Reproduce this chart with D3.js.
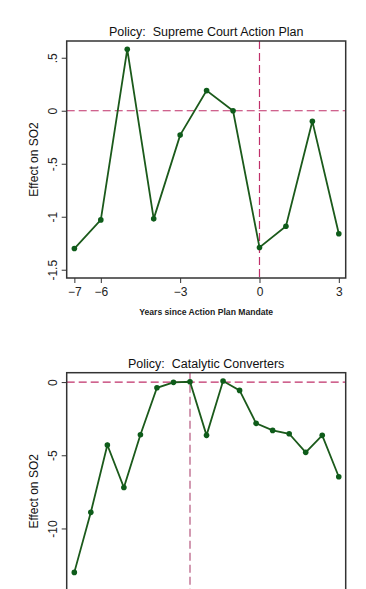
<!DOCTYPE html>
<html><head><meta charset="utf-8">
<script src="https://cdn.jsdelivr.net/npm/d3@7"></script>
<style>
html,body{margin:0;padding:0;background:#fff;}
svg{display:block;}
text{font-family:"Liberation Sans",Arial,sans-serif;white-space:pre;}
</style></head>
<body>
<svg id="chart" width="366" height="589"></svg>
<script>
// ---- Data ----
const titles = ["Policy:  Supreme Court Action Plan", "Policy:  Catalytic Converters"];
const yLabel = "Effect on SO2";
const xLabel1 = "Years since Action Plan Mandate";

const years1 = [-7, -6, -5, -4, -3, -2, -1, 0, 1, 2, 3];
const effects1 = [-1.30, -1.03, 0.58, -1.02, -0.23, 0.19, 0.00, -1.29, -1.09, -0.10, -1.16];
const xTicks1 = [-7, -6, -3, 0, 3];
const yTicks1 = [0.5, 0, -0.5, -1, -1.5];
const yTickLabels1 = [".5", "0", "-.5", "-1", "-1.5"];

const years2 = [-7, -6, -5, -4, -3, -2, -1, 0, 1, 2, 3, 4, 5, 6, 7, 8, 9];
const effects2 = [-13.0, -8.9, -4.3, -7.2, -3.6, -0.39, -0.02, 0.02, -3.64, 0.07, -0.57, -2.82, -3.3, -3.53, -4.8, -3.64, -6.47];
const yTicks2 = [0, -5, -10];
const yTickLabels2 = ["0", "-5", "-10"];

// ---- Drawing ----
const svg = d3.select("#chart");
const lineColor = "#1b5a1b";
const refColor = "#c0306a";

function panel(cfg) {
  const g = svg.append("g");
  const x = d3.scaleLinear().domain(cfg.xDomain).range([cfg.left, cfg.right]);
  const y = d3.scaleLinear().domain(cfg.yDomain).range([cfg.bottom, cfg.top]);

  // title
  g.append("text").attr("x", (cfg.left + cfg.right) / 2).attr("y", cfg.top - 5)
    .attr("text-anchor", "middle").attr("font-size", 12.5).attr("fill", "#111")
    .attr("xml:space", "preserve").text(cfg.title);

  // y axis
  const yAxis = g.append("g").attr("transform", `translate(${cfg.left},0)`)
    .call(d3.axisLeft(y).tickValues(cfg.yTicks).tickSize(5).tickFormat((d, i) => cfg.yTickLabels[i]));
  yAxis.select(".domain").remove();
  yAxis.selectAll(".tick line").attr("stroke", "#333");
  yAxis.selectAll(".tick text")
    .attr("font-size", 12).attr("fill", "#222")
    .attr("text-anchor", "middle")
    .attr("x", 0).attr("y", 0).attr("dy", "0")
    .attr("transform", "translate(-10,0) rotate(-90)");

  // x axis
  if (cfg.xTicks) {
    const xAxis = g.append("g").attr("transform", `translate(0,${cfg.bottom})`)
      .call(d3.axisBottom(x).tickValues(cfg.xTicks).tickSize(5).tickFormat(d3.format("d")));
    xAxis.select(".domain").remove();
    xAxis.selectAll(".tick line").attr("stroke", "#333");
    xAxis.selectAll(".tick text").attr("font-size", 12).attr("fill", "#222").attr("dy", "0.9em").attr("y", 7);
  }
  if (cfg.xLabel) {
    g.append("text").attr("x", (cfg.left + cfg.right) / 2).attr("y", cfg.bottom + 37)
      .attr("text-anchor", "middle").attr("font-size", 8.6).attr("font-weight", "bold")
      .attr("fill", "#222").text(cfg.xLabel);
  }

  // y label
  g.append("text")
    .attr("transform", `translate(${cfg.left - 29},${(cfg.top + cfg.bottom) / 2}) rotate(-90)`)
    .attr("text-anchor", "middle").attr("font-size", 12).attr("fill", "#111").text(yLabel);

  // reference lines
  g.append("line").attr("x1", cfg.left).attr("x2", cfg.right).attr("y1", y(0)).attr("y2", y(0))
    .attr("stroke", refColor).attr("stroke-width", 1.2).attr("stroke-dasharray", "8,4");
  g.append("line").attr("x1", x(0)).attr("x2", x(0)).attr("y1", cfg.top).attr("y2", cfg.bottom)
    .attr("stroke", cfg.vColor).attr("stroke-width", cfg.vWidth).attr("stroke-dasharray", "8,4");

  // series
  const data = cfg.xs.map((d, i) => [d, cfg.ys[i]]);
  g.append("path").datum(data)
    .attr("fill", "none").attr("stroke", lineColor).attr("stroke-width", 1.8)
    .attr("d", d3.line().x(d => x(d[0])).y(d => y(d[1])));
  g.selectAll("circle.pt").data(data).enter().append("circle")
    .attr("cx", d => x(d[0])).attr("cy", d => y(d[1])).attr("r", 2.8)
    .attr("fill", "#0e5c1a");

  // frame
  g.append("rect").attr("x", cfg.left).attr("y", cfg.top)
    .attr("width", cfg.right - cfg.left).attr("height", cfg.bottom - cfg.top)
    .attr("fill", "none").attr("stroke", "#333").attr("stroke-width", 1.5);
}

panel({
  title: titles[0], left: 66.7, right: 345.7, top: 41, bottom: 278,
  xDomain: [-7.29, 3.26], yDomain: [-1.578, 0.658],
  xs: years1, ys: effects1, xTicks: xTicks1, xLabel: xLabel1,
  yTicks: yTicks1, yTickLabels: yTickLabels1,
  vColor: refColor, vWidth: 1.2
});

panel({
  title: titles[1], left: 66.7, right: 345.7, top: 372.7, bottom: 610,
  xDomain: [-7.46, 9.42], yDomain: [-15.57, 0.64],
  xs: years2, ys: effects2, xTicks: null, xLabel: null,
  yTicks: yTicks2, yTickLabels: yTickLabels2,
  vColor: "#c7809f", vWidth: 1.6
});
</script>
</body></html>
